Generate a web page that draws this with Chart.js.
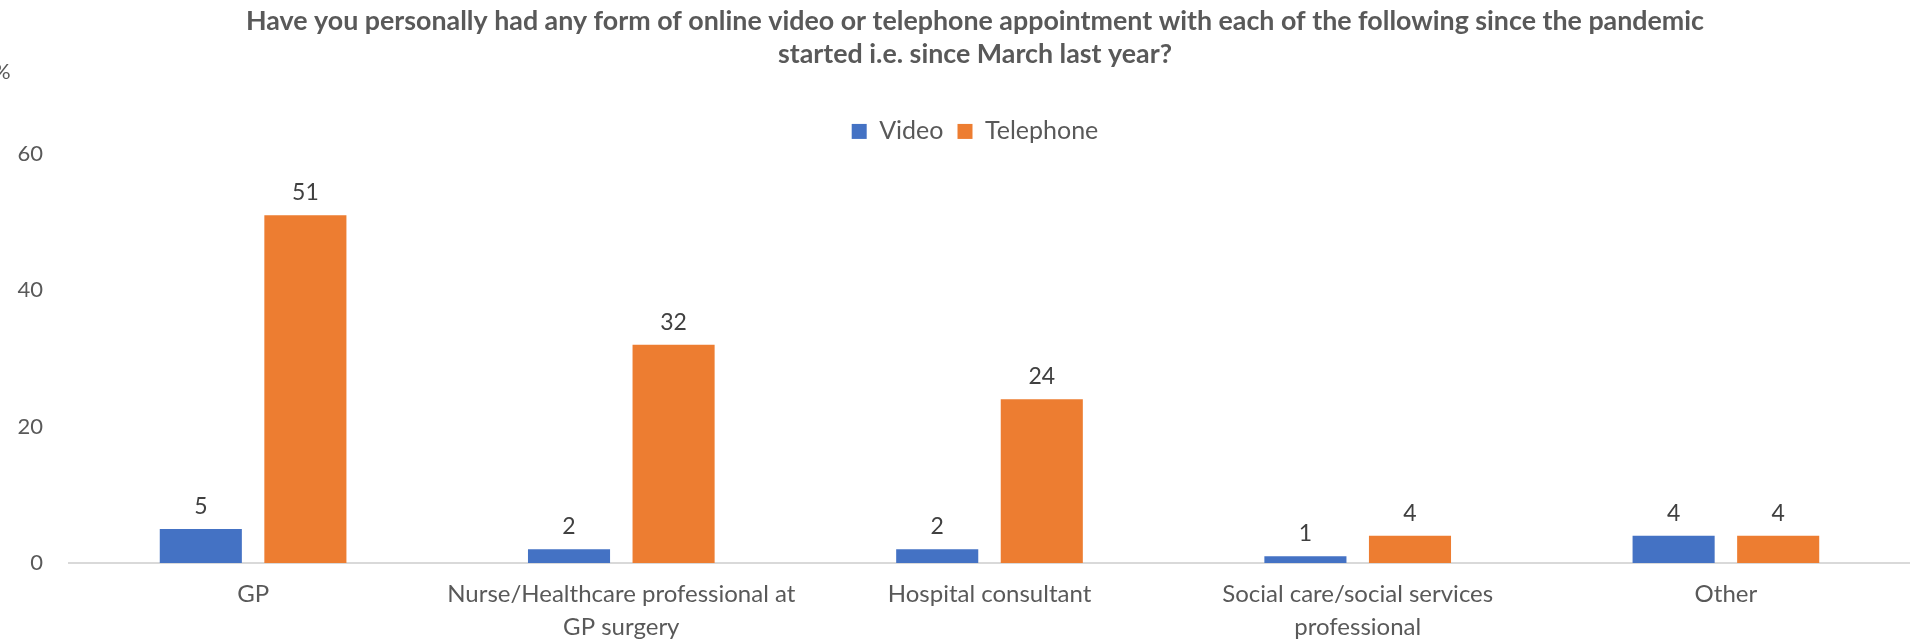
<!DOCTYPE html>
<html>
<head>
<meta charset="utf-8">
<script src="https://cdn.jsdelivr.net/npm/chart.js@4"></script>
<style>
  html, body { margin: 0; padding: 0; background: #fff; }
  #wrap { width: 1910px; height: 640px; }
</style>
</head>
<body>
<div id="wrap"><canvas id="apptChart"></canvas></div>
<script>
// categories and survey results (%)
const categories = [
  'GP',
  ['Nurse/Healthcare professional at', 'GP surgery'],
  'Hospital consultant',
  ['Social care/social services', 'professional'],
  'Other'
];
const videoValues = [5, 2, 2, 1, 4];
const telephoneValues = [51, 32, 24, 4, 4];
const yTicks = [0, 20, 40, 60];

const FONT = 'Lato, "Open Sans", sans-serif';

// values over each bar
const barValues = {
  id: 'barValues',
  afterDatasetsDraw(chart) {
    const ctx = chart.ctx;
    ctx.save();
    ctx.font = '23px ' + FONT;
    ctx.fillStyle = '#404040';
    ctx.textAlign = 'center';
    ctx.textBaseline = 'bottom';
    chart.data.datasets.forEach((ds, i) => {
      chart.getDatasetMeta(i).data.forEach((bar, j) => {
        ctx.fillText(ds.data[j], bar.x, bar.y - 11);
      });
    });
    ctx.restore();
  }
};

// unit marker above the value axis
const unitLabel = {
  id: 'unitLabel',
  afterDraw(chart) {
    const ctx = chart.ctx;
    ctx.save();
    ctx.font = '22px ' + FONT;
    ctx.fillStyle = '#595959';
    ctx.textAlign = 'left';
    ctx.textBaseline = 'middle';
    ctx.fillText('%', -7, 72);
    ctx.restore();
  }
};

// centre title and legend a bit right of the canvas middle
const headerShift = {
  id: 'headerShift',
  afterLayout(chart) {
    if (chart.titleBlock) chart.titleBlock.left += 40;
    if (chart.legend) chart.legend.left += 40;
  }
};

new Chart(document.getElementById('apptChart'), {
  type: 'bar',
  data: {
    labels: categories,
    datasets: [
      { label: 'Video', data: videoValues, backgroundColor: '#4472C4' },
      { label: 'Telephone', data: telephoneValues, backgroundColor: '#ED7D31' }
    ]
  },
  options: {
    responsive: true,
    maintainAspectRatio: false,
    animation: false,
    categoryPercentage: 0.568,
    barPercentage: 0.785,
    layout: { padding: 0 },
    plugins: {
      title: {
        display: true,
        text: [
          'Have you personally had any form of online video or telephone appointment with each of the following since the pandemic',
          'started i.e. since March last year?'
        ],
        color: '#595959',
        font: { family: FONT, size: 26.8, weight: 'bold', lineHeight: 1.23 },
        padding: { top: 5, bottom: 34 }
      },
      legend: {
        position: 'top',
        labels: {
          color: '#595959',
          font: { family: FONT, size: 25 },
          boxWidth: 15,
          boxHeight: 15,
          padding: 14
        }
      },
      tooltip: { enabled: false }
    },
    scales: {
      x: {
        afterFit(scale) {
          scale.height = 77;
        },
        grid: { display: false, drawTicks: false },
        border: { color: '#d9d9d9', width: 2 },
        ticks: {
          color: '#595959',
          font: { family: FONT, size: 24, lineHeight: 1.375 },
          maxRotation: 0,
          autoSkip: false,
          padding: 15
        }
      },
      y: {
        min: 0,
        max: 60,
        afterBuildTicks(scale) {
          scale.ticks = yTicks.map(v => ({ value: v }));
        },
        afterFit(scale) {
          scale.width = 69;
        },
        grid: { display: false, drawTicks: false },
        border: { display: false },
        ticks: {
          color: '#595959',
          font: { family: FONT, size: 22 },
          padding: 26
        }
      }
    }
  },
  plugins: [barValues, unitLabel, headerShift]
});
</script>
</body>
</html>
